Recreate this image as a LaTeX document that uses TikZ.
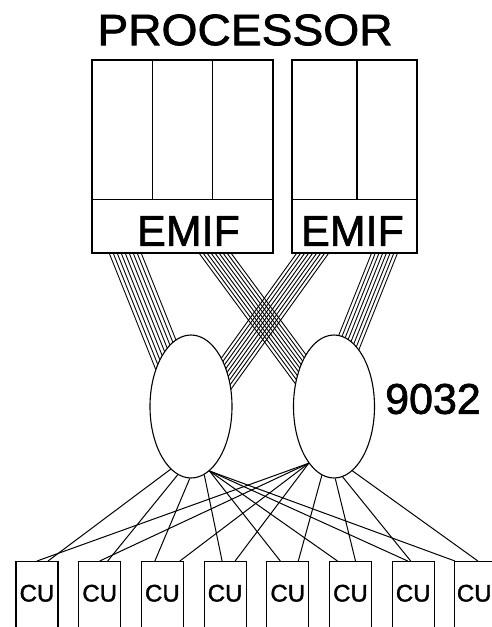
\documentclass[tikz,border=0pt]{standalone}
\usepackage{fontspec}
\setmainfont{Liberation Sans}
\newfontfamily\heavyfont{Liberation Sans}[FakeBold=1.6]
\usetikzlibrary{shapes.geometric,positioning,calc,backgrounds}
\definecolor{inkblack}{RGB}{0,0,0}

\begin{document}
\begin{tikzpicture}[x=1pt, y=-1pt,
    procbox/.style={rectangle, draw=inkblack, line width=1.2pt, inner sep=0pt},
    switch/.style={ellipse, draw=inkblack, line width=1.1pt, fill=white, inner sep=0pt, minimum width=82pt, minimum height=143pt},
    cubox/.style={rectangle, draw=inkblack, line width=1.1pt, anchor=north, minimum width=42pt, inner xsep=0pt, inner ysep=0pt, text height=40pt, text depth=40pt, font=\heavyfont\fontsize{24}{24}\selectfont},
    cable/.style={inkblack, line width=0.9pt},
    link/.style={inkblack, line width=1pt}]

    \path[use as bounding box, clip] (0,0) rectangle (492,627);

    % Processor
    \node[font=\heavyfont\fontsize{44}{44}\selectfont] (proc) at (245,30) {\scalebox{1.05}[1]{PROCESSOR}};
    \node[procbox, minimum width=181pt, minimum height=193pt] (procL) at (182.5,156.5) {};
    \node[procbox, minimum width=125pt, minimum height=193pt] (procR) at (354.5,156.5) {};
    \draw[line width=1.2pt] ([yshift=-140pt]procL.north west) -- ([yshift=-140pt]procL.north east);
    \draw[line width=1.2pt] ([yshift=-140pt]procR.north west) -- ([yshift=-140pt]procR.north east);
    \draw[line width=1.2pt] ($(procL.north west)!1/3!(procL.north east)$) -- ++(0,140);
    \draw[line width=1.2pt] ($(procL.north west)!2/3!(procL.north east)$) -- ++(0,140);
    \draw[line width=1.2pt] ($(procR.north west)!0.52!(procR.north east)$) -- ++(0,140);
    \node[font=\heavyfont\fontsize{43}{43}\selectfont] (emifL) at (188.5,231) {EMIF};
    \node[font=\heavyfont\fontsize{43}{43}\selectfont] (emifR) at (352.5,231) {EMIF};

    % 9032
    \node[switch] (swL) at (191,406.5) {};
    \node[switch, minimum width=81pt] (swR) at (334,406.5) {};
    \node[font=\heavyfont\fontsize{43}{43}\selectfont] (swlabel) at (433,399) {9032};

    % Cables
    \begin{scope}[on background layer]
      \foreach \i in {0,...,8} {
        \draw[cable] ([xshift={(18+4*\i)*1pt}]procL.south west) -- ++(60,150);
        \draw[cable] ([xshift={(108+4*\i)*1pt}]procL.south west) -- ++(118,160);
        \draw[cable] ([xshift={(5+4*\i)*1pt}]procR.south west) -- ++(-115,160);
      }
      \foreach \i in {0,...,7}
        \draw[cable] ([xshift={(80+3.7*\i)*1pt}]procR.south west) -- ++(-60,150);
    \end{scope}

    % Control units
    \foreach \i in {1,...,7}
      \node[cubox] (cu\i) at ({37+62.7*(\i-1)},561) {CU};
    \node[cubox, inner xsep=2pt, text width=38pt, align=left] (cu8) at (475.9,561) {CU};

    % Links
    \foreach \a/\c/\dx in {-108/1/11, -101/2/8, -91/3/-7.5, -79/4/-3, -74/5/-7.5, -74/6/-13, -74/7/-5.5, -74/8/-21}
      \draw[link] (swL.\a) -- ([xshift=\dx pt]cu\c.north);
    \foreach \a/\c/\dx in {-114/1/0, -114/2/0, -114/3/17.5, -114/4/10, -100/5/10.5, -89/6/5, -83/7/-2.5, -74/8/2}
      \draw[link] (swR.\a) -- ([xshift=\dx pt]cu\c.north);
\end{tikzpicture}
\end{document}
